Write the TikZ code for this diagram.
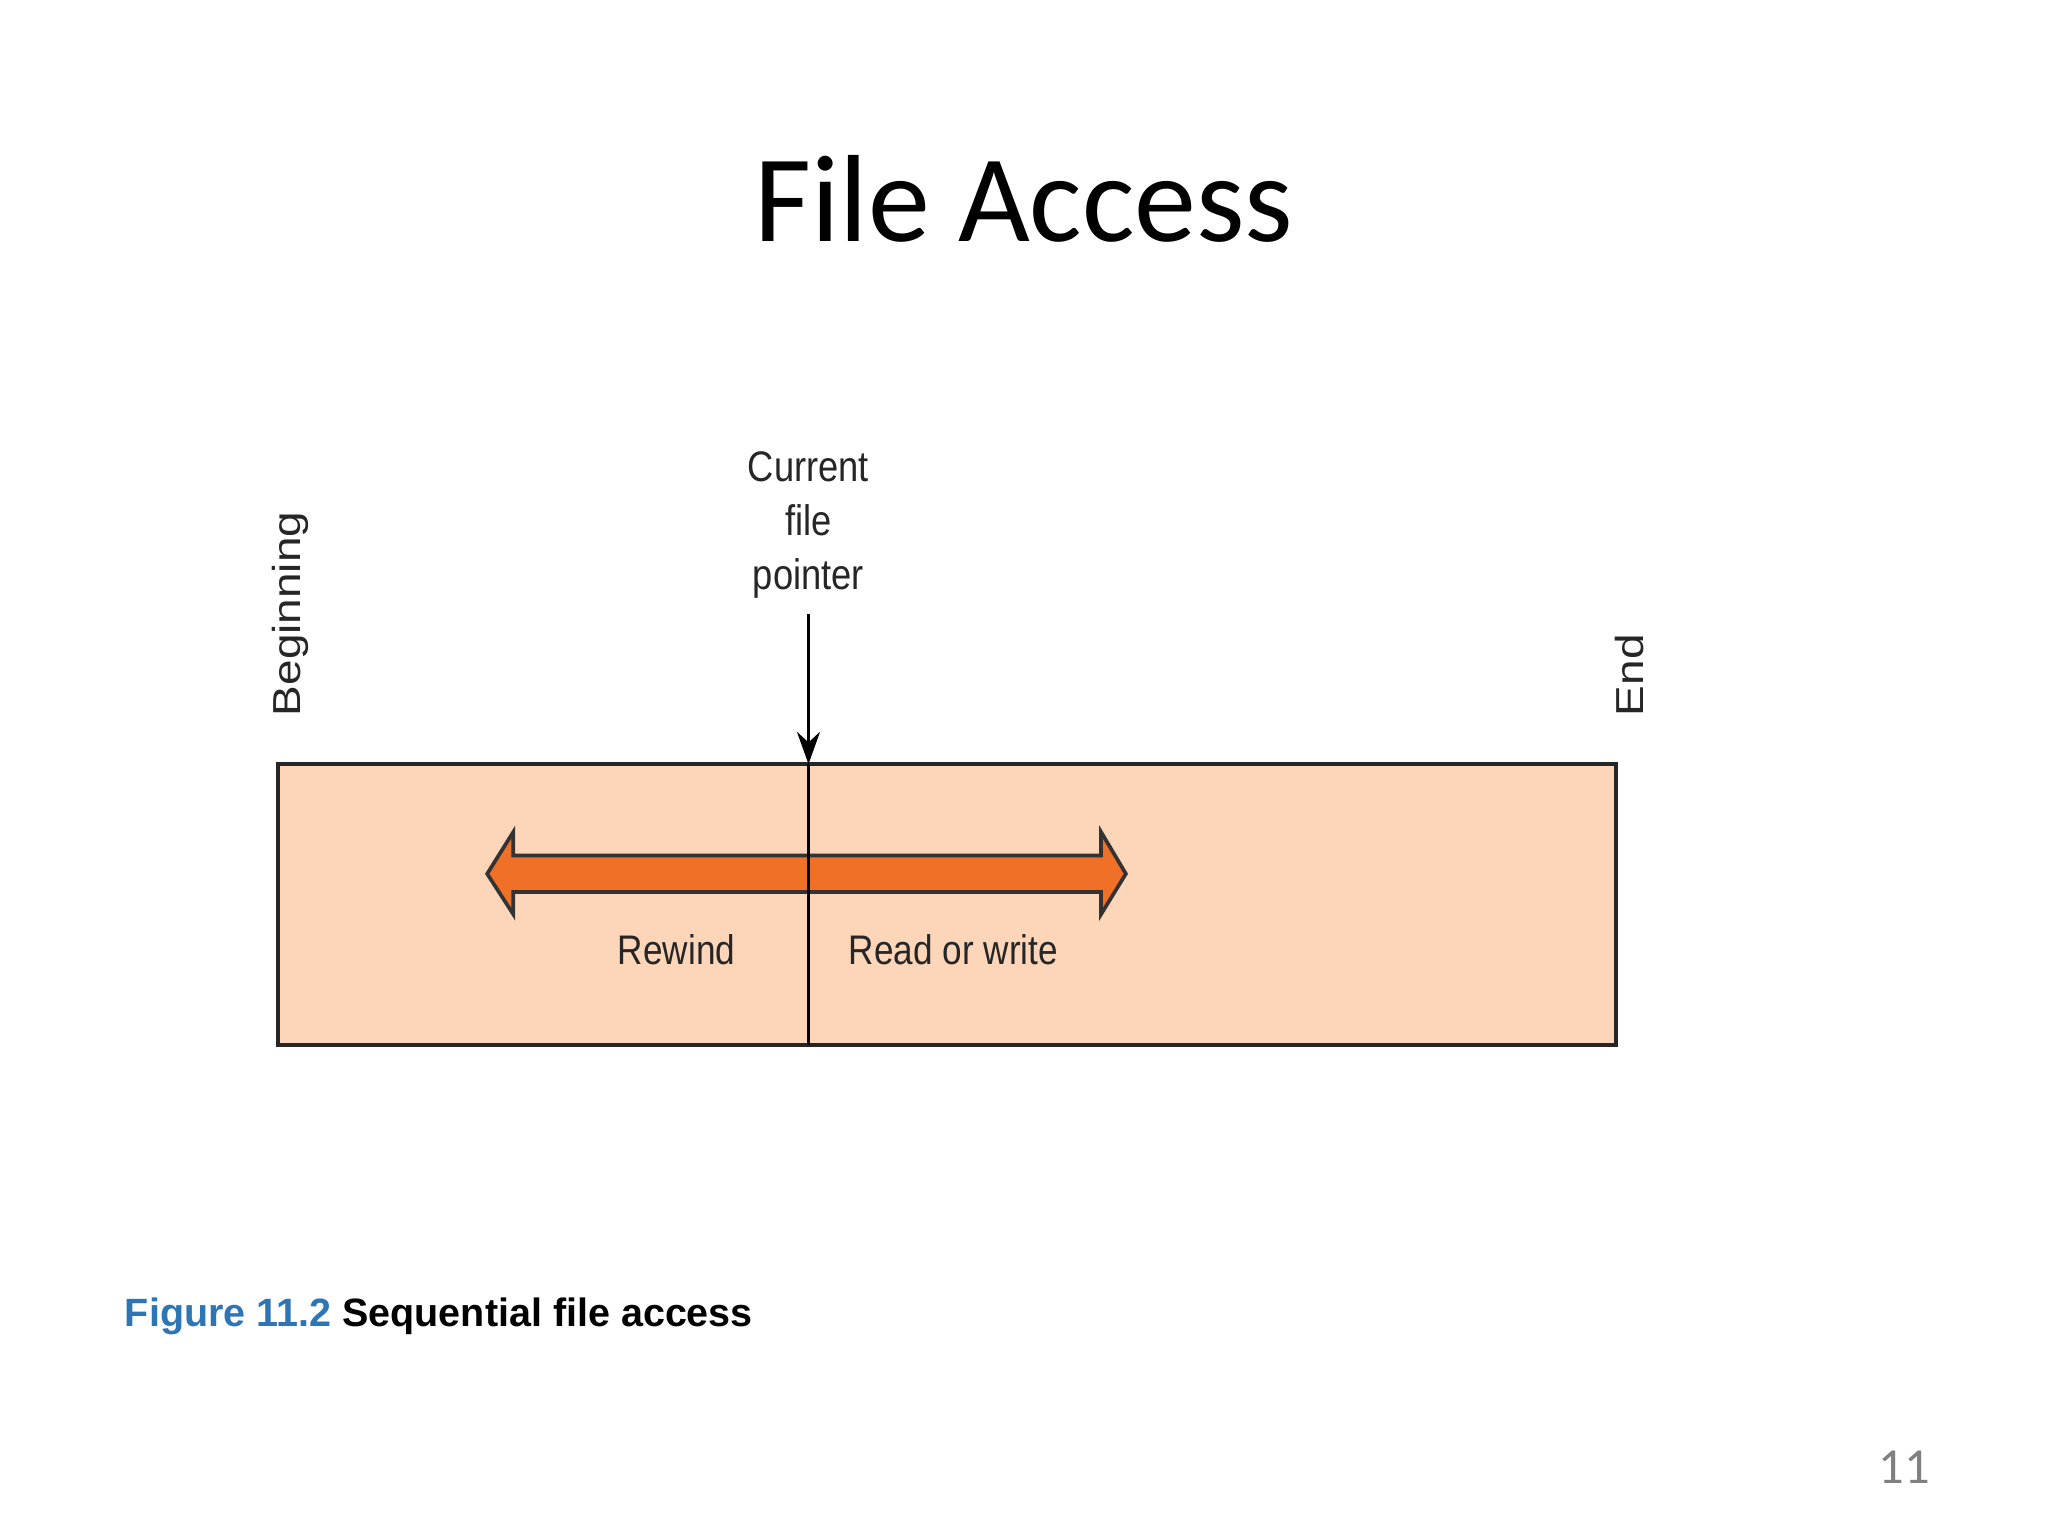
\documentclass[tikz,border=0pt]{standalone}
\usepackage{fontspec}
\setmainfont{Liberation Sans}
\newfontfamily\titlefont{Carlito}
\usetikzlibrary{arrows.meta}
\definecolor{filefill}{HTML}{FDD5B8}
\definecolor{arrowfill}{HTML}{F07028}
\definecolor{capblue}{HTML}{2E75B6}
\begin{document}
\begin{tikzpicture}[x=0.01cm,y=-0.01cm,
  lbl/.style={font=\fontsize{9}{11}\selectfont, xscale=0.85, align=center, inner sep=0pt, text=black!85}]
\useasboundingbox (0,0) rectangle (1568,1176);
\node[font=\titlefont\fontsize{27}{30}\selectfont] (title) at (784,152) {File Access};
\draw[thick, fill=filefill, draw=black!85] (213,585) rectangle (1237,800);
\coordinate (ptop) at (619,585);
\coordinate (pbot) at (619,800);
\filldraw[fill=arrowfill, draw=black!80, line width=0.8pt]
  (373,669) -- (393,637) -- (393,655) -- (843,655) -- (843,637) -- (862,669)
  -- (843,700) -- (843,683) -- (393,683) -- (393,700) -- cycle;
\draw[line width=0.8pt] (ptop) -- (pbot);
\node[lbl, font=\fontsize{9.3}{11.8}\selectfont] (cfp) at (619,402) {Current\\file\\pointer};
\draw[line width=0.7pt, -{Stealth[length=7pt,width=5pt]}] (619,470) -- (ptop);
\node[lbl, rotate=90, anchor=west, font=\fontsize{10}{12}\selectfont] (beg) at (222,549) {Beginning};
\node[lbl, rotate=90, anchor=west, font=\fontsize{10}{12}\selectfont] (end) at (1248,549) {End};
\node[lbl] (rew) at (518,727) {Rewind};
\node[lbl] (rw) at (730,727) {Read or write};
\node[anchor=west, inner sep=0pt, font=\bfseries\fontsize{8.6}{10}\selectfont] (cap) at (95,1008)
  {\textcolor{capblue}{Figure 11.2} Sequential file access};
\node[font=\titlefont\fontsize{11}{13}\selectfont, text=black!50] (pg) at (1458,1123) {11};
\end{tikzpicture}
\end{document}
